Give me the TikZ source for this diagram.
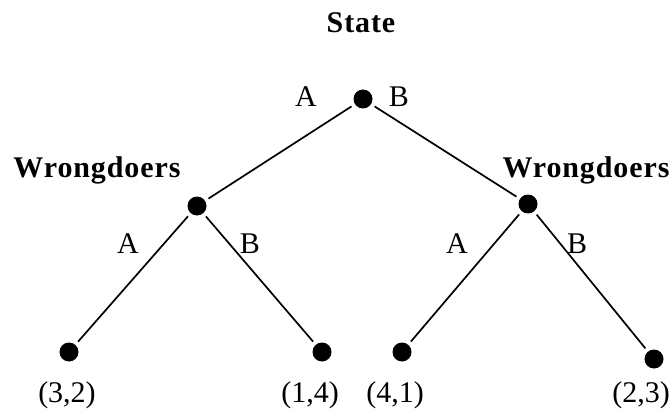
\documentclass[tikz,border=0pt]{standalone}
\usepackage{fontspec}
\setmainfont{Liberation Serif}
\newfontfamily\wideboldfont[LetterSpace=3]{Liberation Serif}
\begin{document}
\begin{tikzpicture}[x=1pt,y=-1pt,
  dot/.style={circle,fill=black,inner sep=0pt,minimum size=19pt},
  lbl/.style={font=\fontsize{30}{34}\selectfont,inner sep=0pt,anchor=base},
  blbl/.style={font=\fontsize{30}{34}\selectfont\wideboldfont\bfseries,inner sep=0pt,anchor=base},
  edge/.style={line width=1.7pt,shorten >=4pt,shorten <=4pt}]
\useasboundingbox (0,0) rectangle (672,409);
% dots
\node[dot] (root) at (363,99) {};
\node[dot] (wl) at (197,206) {};
\node[dot] (wr) at (528,204) {};
\node[dot] (l1) at (69,352) {};
\node[dot] (l2) at (322,352) {};
\node[dot] (l3) at (402,352) {};
\node[dot] (l4) at (654,359) {};
% edges
\draw[edge] (root) -- (wl);
\draw[edge] (root) -- (wr);
\draw[edge] (wl) -- (l1);
\draw[edge] (wl) -- (l2);
\draw[edge] (wr) -- (l3);
\draw[edge] (wr) -- (l4);
% labels
\node[blbl] (state) at (361,33) {State};
\node[blbl] (wlt) at (97,178) {Wrongdoers};
\node[blbl] (wrt) at (586,178) {Wrongdoers};
\node[lbl] (ra) at (306,107) {A};
\node[lbl] (rb) at (399,107) {B};
\node[lbl] (la) at (128,253) {A};
\node[lbl] (lb) at (250,253) {B};
\node[lbl] (ma) at (457,253) {A};
\node[lbl] (mb) at (577,253) {B};
\node[lbl] (p1) at (67,402) {(3,2)};
\node[lbl] (p2) at (310,402) {(1,4)};
\node[lbl] (p3) at (395,402) {(4,1)};
\node[lbl] (p4) at (641,402) {(2,3)};
\end{tikzpicture}
\end{document}
